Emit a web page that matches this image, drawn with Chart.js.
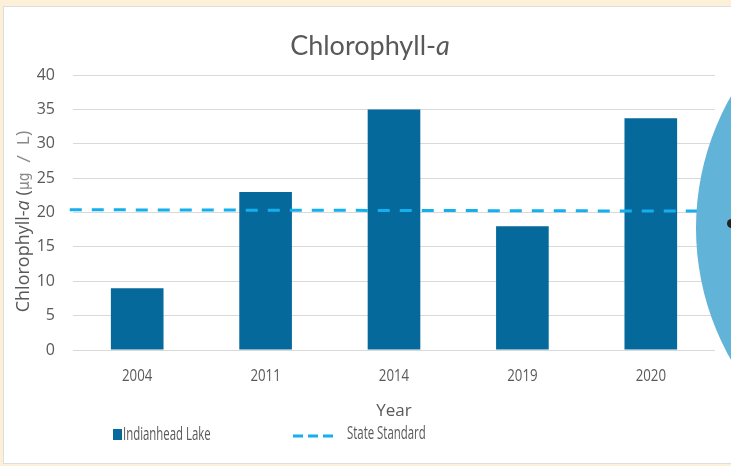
<!DOCTYPE html>
<html>
<head>
<meta charset="utf-8">
<script src="https://cdn.jsdelivr.net/npm/chart.js@4"></script>
<style>
  body { margin: 0; background: #fcf1d8; width: 731px; height: 466px; overflow: hidden; position: relative; }
  .card { position: absolute; left: 3px; top: 6px; width: 760px; height: 456px; background: #fff; border: 1px solid #dedede; }
  .wrap { position: absolute; left: 0; top: 0; width: 731px; height: 466px; }
  .blob { position: absolute; left: 696px; top: -38px; width: 532px; height: 532px; border-radius: 50%; background: #62b3d8; }
  .dot { position: absolute; left: 727px; top: 219px; width: 9px; height: 9px; border-radius: 50%; background: #222; }
</style>
</head>
<body>
<div class="card"></div>
<div class="wrap"><canvas id="chart"></canvas></div>
<div class="blob"></div>
<div class="dot"></div>
<script>
// --- data ---
const years = ['2004', '2011', '2014', '2019', '2020'];
const lakeValues = [9, 23, 35, 18, 33.7];
const standardX = [0, 1];
const standardY = [20.4, 20.2];
const yTicks = [0, 5, 10, 15, 20, 25, 30, 35, 40];

const barColor = '#05699b';
const lineColor = '#14b0ee';
const textColor = '#595959';

// narrow text (no condensed face installed)
function narrowText(ctx, text, x, y, sx, align) {
  ctx.save();
  ctx.translate(x, y);
  ctx.scale(sx, 1);
  ctx.textAlign = align || 'left';
  ctx.fillText(text, 0, 0);
  ctx.restore();
}

// title, y-axis title, x labels and legend
const extras = {
  id: 'extras',
  afterDraw(chart) {
    const ctx = chart.ctx;
    ctx.save();
    ctx.fillStyle = textColor;
    ctx.textBaseline = 'alphabetic';

    // title
    const t1 = 'Chlorophyll-', t2 = 'a';
    ctx.font = '27px Lato';
    const w1 = ctx.measureText(t1).width;
    ctx.font = 'italic 27px Lato';
    const w2 = ctx.measureText(t2).width;
    let x = 370 - (w1 + w2) / 2;
    ctx.font = '27px Lato';
    ctx.fillText(t1, x, 55);
    ctx.font = 'italic 27px Lato';
    ctx.fillText(t2, x + w1, 55);

    // y-axis title
    const parts = [
      ['Chlorophyll-', '18px "Open Sans"', textColor],
      ['a', 'italic 18px "Open Sans"', textColor],
      [' (', '18px "Open Sans"', textColor],
      ['µg / L', '15px "DejaVu Sans Mono"', '#8a8a8a'],
      [')', '18px "Open Sans"', '#8a8a8a']
    ];
    let total = 0;
    parts.forEach(p => { ctx.font = p[1]; p.push(ctx.measureText(p[0]).width); total += p[3]; });
    ctx.translate(29, (chart.chartArea.top + chart.chartArea.bottom) / 2 + 9);
    ctx.rotate(-Math.PI / 2);
    let px = -total / 2;
    parts.forEach(p => { ctx.font = p[1]; ctx.fillStyle = p[2]; ctx.fillText(p[0], px, 0); px += p[3]; });
    ctx.setTransform(1, 0, 0, 1, 0, 0);

    // x tick labels, placed by the category scale
    const xs = chart.scales.x;
    ctx.fillStyle = textColor;
    ctx.textBaseline = 'middle';
    ctx.font = '17px "Open Sans"';
    years.forEach((y, i) => narrowText(ctx, y, xs.getPixelForValue(i), xs.top + 26, 0.78, 'center'));

    // legend
    ctx.fillStyle = barColor;
    ctx.fillRect(113, 429, 9, 11);
    ctx.fillStyle = textColor;
    ctx.font = '19px "Open Sans"';
    narrowText(ctx, 'Indianhead Lake', 123, 435, 0.6);
    ctx.strokeStyle = lineColor;
    ctx.lineWidth = 3;
    ctx.setLineDash([10, 5]);
    ctx.beginPath();
    ctx.moveTo(293, 436);
    ctx.lineTo(334, 436);
    ctx.stroke();
    narrowText(ctx, 'State Standard', 347, 434, 0.6);
    ctx.restore();
  }
};

new Chart(document.getElementById('chart'), {
  type: 'bar',
  data: {
    labels: years,
    datasets: [
      {
        label: 'Indianhead Lake',
        data: lakeValues,
        backgroundColor: barColor,
        grouped: false,
        categoryPercentage: 1,
        barPercentage: 0.41,
        order: 1
      },
      {
        type: 'line',
        label: 'State Standard',
        data: standardX.map((v, i) => ({ x: v, y: standardY[i] })),
        xAxisID: 'x2',
        borderColor: lineColor,
        borderWidth: 3,
        borderDash: [12, 10],
        pointRadius: 0,
        fill: false,
        clip: false,
        order: 0
      }
    ]
  },
  options: {
    responsive: true,
    maintainAspectRatio: false,
    animation: false,
    layout: { padding: { top: 75, right: 16, left: 0, bottom: 0 } },
    plugins: { legend: { display: false }, tooltip: { enabled: false } },
    scales: {
      x: {
        grid: { display: false },
        border: { display: false },
        ticks: { display: false },
        title: { display: true, text: 'Year', color: textColor, font: { family: '"Open Sans"', size: 17 }, padding: { top: 0, bottom: 45 } },
        afterFit: s => { s.height = 116; }
      },
      x2: { type: 'linear', display: false, offset: false, min: 0.005, max: 1 },
      y: {
        min: 0,
        max: 40,
        afterBuildTicks: s => { s.ticks = yTicks.map(v => ({ value: v })); },
        grid: { color: '#d9d9d9', lineWidth: 1, drawTicks: false },
        border: { display: false },
        ticks: { color: textColor, font: { family: '"Open Sans"', size: 16 }, padding: 18 },
        afterFit: s => { s.width = 73; }
      }
    }
  },
  plugins: [extras]
});
</script>
</body>
</html>
